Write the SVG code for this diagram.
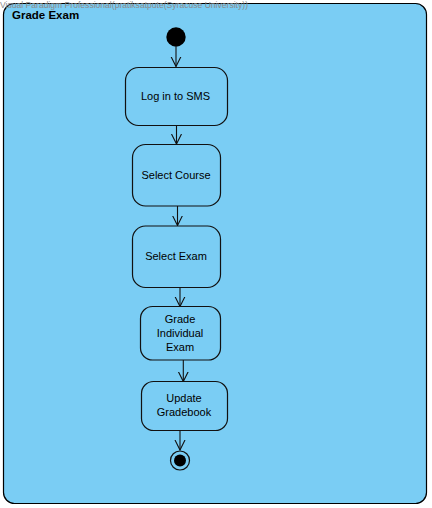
<svg xmlns="http://www.w3.org/2000/svg" width="432" height="508" viewBox="0 0 432 508">
<style>
.frame{fill:#7acdf4;stroke:#000;stroke-width:1.2}
.act{fill:#7acdf4;stroke:#111;stroke-width:1.2}
.lbl{font-family:"Liberation Sans",Arial,sans-serif;font-size:11px;fill:#000;text-anchor:middle}
.edge{stroke:#111;stroke-width:1.1;fill:none}
</style>
<defs>
<marker id="open" markerWidth="12" markerHeight="16" refX="10" refY="7" orient="auto" markerUnits="userSpaceOnUse" viewBox="0 0 12 14">
<path d="M0,2 L10,7 L0,12" fill="none" stroke="#111" stroke-width="1.1"/>
</marker>
</defs>
<g id="frame">
<rect class="frame" x="3.5" y="3.5" width="423" height="500" rx="11" ry="11"/>
<text x="12" y="19" font-family="Liberation Sans,Arial,sans-serif" font-size="11.5" font-weight="bold" fill="#000">Grade Exam</text>
</g>
<text x="0" y="8" font-family="Liberation Sans,Arial,sans-serif" font-size="8.5" fill="#8a8a8a" textLength="248" lengthAdjust="spacing">Visual Paradigm Professional(pratiksatpute(Syracuse University))</text>
<g id="connectors">
<line class="edge" x1="176" y1="46.5" x2="176" y2="66.5" marker-end="url(#open)"/>
<line class="edge" x1="176.5" y1="125.5" x2="176.5" y2="144" marker-end="url(#open)"/>
<line class="edge" x1="177.5" y1="206" x2="177.5" y2="225.5" marker-end="url(#open)"/>
<line class="edge" x1="180" y1="287.5" x2="180" y2="306.5" marker-end="url(#open)"/>
<line class="edge" x1="183.3" y1="360" x2="183.3" y2="381.5" marker-end="url(#open)"/>
<line class="edge" x1="180" y1="430.5" x2="180" y2="450" marker-end="url(#open)"/>
</g>
<g id="initial">
<circle cx="176" cy="37" r="9.7" fill="#000"/>
</g>
<g id="login">
<rect class="act" x="125.5" y="67.5" width="102" height="58" rx="13"/>
<text class="lbl" x="175.5" y="100">Log in to SMS</text>
</g>
<g id="selectCourse">
<rect class="act" x="132.5" y="144.5" width="88" height="61.5" rx="13"/>
<text class="lbl" x="176" y="179">Select Course</text>
</g>
<g id="selectExam">
<rect class="act" x="132.5" y="226" width="88" height="61.5" rx="13"/>
<text class="lbl" x="176" y="260">Select Exam</text>
</g>
<g id="gradeIndividual">
<rect class="act" x="140.5" y="306.5" width="80" height="53.5" rx="12"/>
<text class="lbl" x="180" y="323">Grade</text>
<text class="lbl" x="180" y="337">Individual</text>
<text class="lbl" x="180" y="351">Exam</text>
</g>
<g id="updateGradebook">
<rect class="act" x="141.5" y="381.5" width="86" height="49" rx="12"/>
<text class="lbl" x="184" y="402">Update</text>
<text class="lbl" x="184" y="416">Gradebook</text>
</g>
<g id="final">
<circle cx="180" cy="460.5" r="9.5" fill="none" stroke="#111" stroke-width="1.2"/>
<circle cx="180" cy="460.5" r="6" fill="#000"/>
</g>
</svg>
